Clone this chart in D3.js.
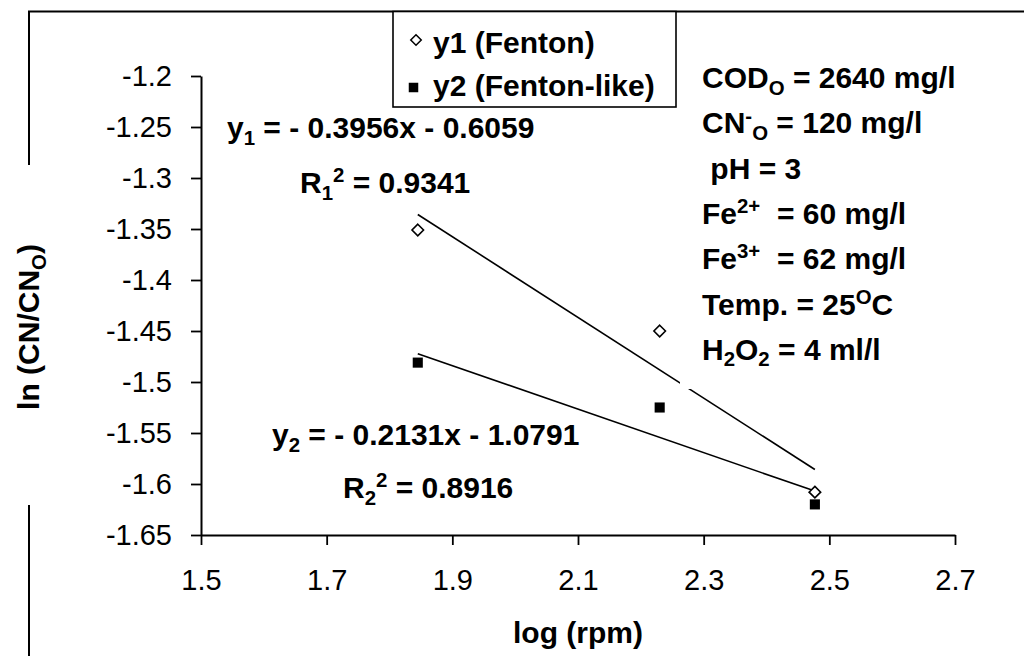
<!DOCTYPE html>
<html>
<head>
<meta charset="utf-8">
<script src="https://cdn.jsdelivr.net/npm/d3@7/dist/d3.min.js"></script>
<style>
  html, body { margin: 0; padding: 0; background: #fff; }
  svg { display: block; }
  text { font-family: "Liberation Sans", Arial, Helvetica, sans-serif; fill: #000; white-space: pre; }
</style>
</head>
<body>
<svg id="chart" width="1024" height="656"></svg>
<script>
// log10 of stirring speed (rpm) for the three runs
const logRpm = [1.845, 2.230, 2.477];
// ln(CN/CN0) for the Fenton and Fenton-like runs
const fentonLn = [-1.351, -1.450, -1.608];
const fentonLikeLn = [-1.481, -1.525, -1.620];
const seriesNames = ["y1 (Fenton)", "y2 (Fenton-like)"];

// linear fits: slope, intercept, R²
const fitSlopes = [-0.3956, -0.2131];
const fitIntercepts = [-0.6059, -1.0791];
const fitR2 = [0.9341, 0.8916];

const xTicks = [1.5, 1.7, 1.9, 2.1, 2.3, 2.5, 2.7];
const yTicks = [-1.2, -1.25, -1.3, -1.35, -1.4, -1.45, -1.5, -1.55, -1.6, -1.65];

const svg = d3.select("#chart");
const x = d3.scaleLinear().domain([1.5, 2.7]).range([201, 955]);
const y = d3.scaleLinear().domain([-1.65, -1.2]).range([535, 76]);

// outer frame (open where the y title sits)
svg.append("path")
  .attr("d", "M29,656 L29,505 M29,165 L29,11.5 L1024,11.5")
  .attr("fill", "none").attr("stroke", "#000").attr("stroke-width", 2);

// axes
const xAxis = d3.axisBottom(x).tickValues(xTicks).tickSize(10).tickSizeOuter(0)
  .tickPadding(24).tickFormat(d => String(d));
const yAxis = d3.axisLeft(y).tickValues(yTicks).tickSize(10).tickSizeOuter(0)
  .tickPadding(19).tickFormat(d => String(d));

const gx = svg.append("g").attr("transform", `translate(0,${y(-1.65)})`).call(xAxis);
const gy = svg.append("g").attr("transform", `translate(${x(1.5)},0)`).call(yAxis);
[gx, gy].forEach(g => {
  g.select(".domain").attr("stroke", "#000").attr("stroke-width", 2);
  g.selectAll(".tick line").attr("stroke", "#000").attr("stroke-width", 1.8);
  g.selectAll(".tick text").attr("font-size", 29).attr("font-family", null).attr("fill", "#000");
});

// fitted lines over the measured range
const xMin = d3.min(logRpm), xMax = d3.max(logRpm);
fitSlopes.forEach((m, i) => {
  const b = fitIntercepts[i];
  svg.append("line")
    .attr("x1", x(xMin)).attr("y1", y(m * xMin + b))
    .attr("x2", x(xMax)).attr("y2", y(m * xMax + b))
    .attr("stroke", "#000").attr("stroke-width", 1.6);
});

// markers
const diamond = d3.symbol().type(d3.symbolDiamond2).size(85);
const square = d3.symbol().type(d3.symbolSquare2).size(130);
svg.selectAll(".pt1").data(logRpm).join("path")
  .attr("class", "pt1")
  .attr("transform", (d, i) => `translate(${x(d)},${y(fentonLn[i])})`)
  .attr("d", diamond).attr("fill", "#fff").attr("stroke", "#000").attr("stroke-width", 1.6);
svg.selectAll(".pt2").data(logRpm).join("path")
  .attr("class", "pt2")
  .attr("transform", (d, i) => `translate(${x(d)},${y(fentonLikeLn[i])})`)
  .attr("d", square).attr("fill", "#000");

// rich text helper: parts = [[text, "sub"|"sup"|null], ...]
function richText(parent, px, py, parts, size, bold) {
  const t = parent.append("text").attr("x", px).attr("y", py)
    .attr("font-size", size).attr("font-weight", bold ? "bold" : "normal");
  let shift = 0;
  parts.forEach(([s, kind]) => {
    const ts = t.append("tspan").text(s);
    let target = 0;
    if (kind === "sub") { target = size * 0.22; ts.attr("font-size", size * 0.68); }
    if (kind === "sup") { target = -size * 0.36; ts.attr("font-size", size * 0.68); }
    ts.attr("dy", target - shift);
    shift = target;
  });
  return t;
}

// condition box (white, sits over the plot)
const info = svg.append("g");
info.append("rect").attr("x", 680).attr("y", 24).attr("width", 290).attr("height", 365).attr("fill", "#fff");
const infoLines = [
  [["COD"], ["O", "sub"], [" = 2640 mg/l"]],
  [["CN"], ["-", "sup"], ["O", "sub"], [" = 120 mg/l"]],
  [[" pH = 3"]],
  [["Fe"], ["2+", "sup"], ["  = 60 mg/l"]],
  [["Fe"], ["3+", "sup"], ["  = 62 mg/l"]],
  [["Temp. = 25"], ["O", "sup"], ["C"]],
  [["H"], ["2", "sub"], ["O"], ["2", "sub"], [" = 4 ml/l"]]
];
infoLines.forEach((parts, i) => {
  richText(info, 702, 88 + i * 45.3, parts.map(p => [p[0], p[1] || null]), 30, true);
});

// fit equations
const fmt4 = v => Math.abs(v).toFixed(4);
const eqPos = [[227, 138], [272, 445]];
const r2Pos = [[300, 193], [343, 498]];
fitSlopes.forEach((m, i) => {
  const n = String(i + 1);
  richText(svg, eqPos[i][0], eqPos[i][1],
    [["y", null], [n, "sub"], [` = - ${fmt4(m)}x - ${fmt4(fitIntercepts[i])}`, null]], 30, true);
  richText(svg, r2Pos[i][0], r2Pos[i][1],
    [["R", null], [n, "sub"], ["2", "sup"], [` = ${fitR2[i].toFixed(4)}`, null]], 30, true);
});

// legend
const lg = svg.append("g");
lg.append("rect").attr("x", 393).attr("y", 11.5).attr("width", 283).attr("height", 95.5)
  .attr("fill", "#fff").attr("stroke", "#000").attr("stroke-width", 1.6);
lg.append("path").attr("transform", "translate(416,40)")
  .attr("d", d3.symbol().type(d3.symbolDiamond2).size(70))
  .attr("fill", "#fff").attr("stroke", "#000").attr("stroke-width", 1.5);
lg.append("path").attr("transform", "translate(413.5,87.5)")
  .attr("d", d3.symbol().type(d3.symbolSquare2).size(115)).attr("fill", "#000");
seriesNames.forEach((s, i) => {
  lg.append("text").attr("x", 433).attr("y", 53 + i * 43)
    .attr("font-size", 30).attr("font-weight", "bold").text(s);
});

// axis titles
richText(svg, 578, 643, [["log (rpm)", null]], 30, true).attr("text-anchor", "middle");
const yt = svg.append("g").attr("transform", "translate(39,327) rotate(-90)");
richText(yt, 0, 0, [["ln (CN/CN", null], ["O", "sub"], [")", null]], 30, true).attr("text-anchor", "middle");
</script>
</body>
</html>
